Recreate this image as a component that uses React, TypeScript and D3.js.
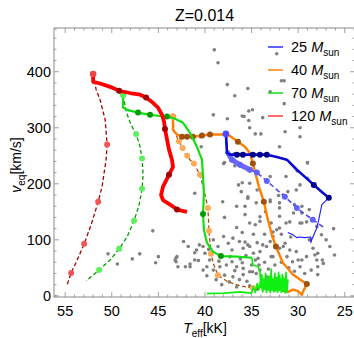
import * as d3 from "d3";

type P = [number, number];

const title = "Z=0.014";
const masses = ["25", "40", "70", "120"];
const legendColors = ["#3a3aff", "#ff8c1a", "#22e022", "#ff4545"];
const xTicks = [55, 50, 45, 40, 35, 30, 25];
const yTicks = [0, 100, 200, 300, 400];

// observed stars (Teff kK, v_eq km/s)
const observed: P[] = [
  [39.0, 439], [38.6, 416], [32.3, 432], [37.6, 377], [35.4, 370], [36.8, 357], [31.8, 384], [31.5, 384],
  [33.0, 364], [31.5, 343], [39.1, 323], [37.6, 316], [36.0, 321], [35.8, 320], [35.3, 330], [34.9, 332],
  [35.3, 313], [33.8, 318], [35.2, 300], [29.8, 300], [34.6, 289], [34.0, 289], [31.4, 293], [29.8, 284],
  [32.0, 266], [29.0, 238], [40.5, 284], [40.4, 266], [37.9, 238], [36.8, 254], [36.5, 238],
  [38.0, 236], [36.8, 232], [29.0, 237], [30.1, 223], [29.0, 210], [31.3, 213], [33.0, 213], [41.1, 183],
  [38.1, 168], [36.4, 198], [36.1, 186], [35.2, 201], [34.4, 189], [35.4, 174], [34.5, 166], [36.6, 160],
  [35.7, 160], [33.0, 168], [32.1, 179], [31.1, 186], [30.2, 189], [32.0, 157], [30.5, 148], [29.6, 160],
  [28.8, 154], [35.2, 130], [34.6, 127], [34.1, 133], [32.9, 130], [32.0, 142], [31.3, 130], [29.6, 130],
  [28.0, 124], [42.3, 97], [43.0, 70], [43.2, 64], [42.1, 52], [41.6, 52], [41.1, 64], [40.9, 82],
  [40.2, 88], [40.0, 76], [39.1, 100], [38.0, 106], [37.5, 94], [37.1, 82], [37.0, 103], [36.3, 97],
  [35.9, 85], [35.4, 91], [34.8, 76], [34.6, 64], [34.3, 67], [33.8, 91], [33.0, 97], [32.7, 106],
  [32.3, 118], [32.9, 70], [32.0, 85], [31.4, 94], [30.9, 82], [30.2, 79], [29.6, 64], [28.8, 100],
  [28.4, 85], [27.9, 76], [28.0, 64], [27.3, 58], [26.6, 88], [27.5, 109], [39.8, 52], [39.1, 46],
  [38.4, 52], [37.7, 55], [37.1, 61], [36.6, 52], [35.9, 49], [35.2, 43], [34.5, 40], [33.9, 29],
  [33.4, 34], [33.0, 23], [32.7, 17], [35.5, 26], [36.3, 29], [37.0, 34], [37.9, 37], [38.8, 29],
  [39.5, 64], [40.2, 46], [45.6, 116], [50.4, 75], [49.4, 57], [47.8, 66], [47.0, 75], [45.3, 59],
  [45.0, 70], [43.1, 68], [43.1, 61], [42.9, 52], [36.0, 202], [35.4, 177], [35.7, 145], [34.1, 141],
  [33.0, 171], [32.0, 166], [31.6, 180], [29.8, 198], [30.4, 163], [29.6, 148], [30.9, 132], [32.0, 121],
  [32.7, 114], [29.8, 130], [29.1, 132], [36.0, 113], [35.7, 96], [35.2, 88], [34.4, 95], [34.1, 79],
  [33.4, 88], [32.7, 70], [31.6, 88], [31.2, 70], [30.6, 61], [30.0, 64], [29.1, 70], [28.2, 73],
  [27.9, 52], [27.4, 64], [26.1, 73], [27.9, 38], [36.0, 59], [35.9, 38], [34.9, 43], [34.1, 46],
  [33.4, 29], [41.8, 88], [41.1, 77], [40.6, 91], [40.7, 63], [41.6, 57],
  [38.5, 62], [37.3, 70], [36.8, 45], [36.2, 66], [35.6, 72], [35.0, 55], [34.2, 55], [33.6, 60],
  [33.2, 48], [32.5, 55], [31.8, 60], [31.0, 50], [30.4, 44], [29.8, 52], [29.3, 40], [28.6, 46],
  [39.8, 36], [38.2, 20], [37.4, 25], [36.6, 16], [35.2, 18], [34.4, 12], [30.8, 105], [31.8, 110],
  [33.6, 110], [34.8, 110], [36.6, 122], [38.6, 88], [39.6, 83], [37.9, 140], [33.5, 150], [27.0, 100],
  [26.2, 120],
];

// 25 Msun
const m25Solid: P[] = [
  [37.75, 289], [37.64, 255], [37.32, 252], [36.57, 252], [35.93, 252], [34.86, 252], [34.11, 252],
  [33.36, 252], [32.29, 248], [31.21, 243], [30.14, 225], [29.18, 211], [28.32, 198], [27.36, 184], [26.71, 175],
];
const m25Tail: P[] = [
  [26.71, 175], [27.46, 163], [27.79, 136], [28.0, 121], [28.21, 113], [28.54, 100], [28.64, 95],
  [28.64, 105], [29.29, 104], [29.82, 105], [30.14, 104], [30.57, 109], [31.11, 113],
];
const m25SolidDots: P[] = [[36.57, 252], [35.93, 252], [34.86, 252], [34.11, 252], [33.36, 252], [28.32, 198], [26.71, 175]];
const m25Band: P[] = [[37.54, 255], [37.11, 243], [36.25, 234], [35.18, 225]];
const m25Dashed: P[] = [
  [37.75, 289], [37.54, 255], [37.11, 243], [36.25, 234], [35.18, 225], [34.43, 220], [33.36, 205],
  [32.39, 191], [31.43, 177], [30.14, 157], [29.29, 146], [28.43, 136], [27.68, 127], [27.04, 120],
];
const m25DashedDots: P[] = [[37.11, 243], [36.25, 234], [35.18, 225], [34.43, 220], [33.36, 205], [31.43, 177], [30.14, 157], [28.43, 136]];

// 40 Msun
const m40Solid: P[] = [
  [43.43, 320], [43.43, 296], [43.0, 288], [42.46, 284], [41.93, 284], [41.29, 284], [40.32, 286],
  [39.46, 288], [38.39, 288], [37.54, 288], [36.46, 275], [35.71, 266], [35.18, 255], [34.86, 236],
  [34.54, 216], [34.21, 195], [33.68, 168], [33.25, 136], [32.82, 109], [32.39, 88], [31.64, 59],
  [30.57, 38], [29.61, 27], [29.07, 21], [29.5, 7], [29.6, 2], [30.04, 9], [30.57, 11], [31.1, 7], [31.54, 11],
];
const m40SolidDots: P[] = [[42.46, 284], [41.93, 284], [41.29, 284], [40.32, 286], [39.46, 288], [36.46, 275], [34.86, 236], [33.68, 168], [32.39, 88], [29.07, 21]];
const m40Dashed: P[] = [
  [43.43, 320], [43.32, 296], [42.89, 279], [42.46, 266], [42.04, 252], [41.61, 243], [41.18, 236],
  [40.54, 216], [40.11, 189], [39.68, 157], [39.57, 116], [39.36, 75], [39.04, 55], [38.61, 37],
  [37.54, 25], [36.25, 18], [34.86, 14], [33.04, 11], [30.89, 7],
];
const m40DashedDots: P[] = [[42.8, 276], [42.4, 264], [41.9, 250], [41.18, 236], [40.54, 216], [39.68, 157], [39.57, 116], [39.36, 75], [38.61, 37], [34.86, 14]];

// 70 Msun
const m70Solid: P[] = [
  [48.79, 359], [48.79, 336], [48.36, 332], [47.18, 327], [45.89, 323], [44.82, 321], [44.07, 320],
  [43.21, 316], [42.36, 309], [41.61, 291], [40.86, 266], [40.32, 243], [40.21, 213], [40.11, 184],
  [40.21, 146], [40.11, 118], [39.79, 95], [39.14, 79], [38.29, 71], [36.57, 70], [34.96, 68],
];
const m70Tail: P[] = [
  [34.96, 68], [34.86, 55], [34.3, 52], [34.1, 43], [34.0, 15], [33.9, 38], [33.8, 8], [33.7, 30],
  [33.6, 12], [33.5, 40], [33.4, 6], [33.3, 28], [33.2, 10], [33.1, 35], [33.0, 6], [32.9, 48],
  [32.8, 10], [32.7, 30], [32.6, 7], [32.5, 40], [32.4, 9], [32.3, 33], [32.2, 6], [32.1, 42],
  [32.0, 10], [31.9, 30], [31.8, 6], [31.7, 38], [31.6, 9], [31.5, 30], [31.4, 5], [31.3, 42],
  [31.2, 8], [31.1, 28], [31.2, 6], [31.3, 35], [31.45, 12], [31.6, 33], [31.8, 8], [32.0, 36],
  [32.2, 14], [32.4, 30], [32.6, 8], [32.8, 26], [33.0, 12], [33.2, 34], [33.4, 9], [33.6, 25],
  [33.8, 7], [34.0, 30], [34.2, 11], [34.4, 22], [34.6, 6], [34.8, 16], [35.0, 5], [36.25, 7],
  [37.9, 5], [39.8, 4],
];
const m70SolidDots: P[] = [[47.18, 327], [45.89, 323], [44.07, 320], [40.21, 146], [38.29, 71]];
const m70Dashed: P[] = [
  [48.79, 359], [48.46, 329], [47.93, 305], [47.39, 289], [46.96, 266], [46.75, 245], [46.64, 216],
  [46.75, 191], [47.07, 162], [47.61, 134], [48.36, 105], [49.21, 84], [50.18, 64], [51.36, 46], [52.75, 27],
];
const m70DashedDots: P[] = [[47.39, 289], [46.75, 245], [46.75, 191], [47.61, 134], [49.21, 84], [51.36, 46]];

// 120 Msun
const m120Solid: P[] = [
  [52.0, 396], [52.0, 382], [51.25, 379], [50.18, 373], [49.21, 366], [48.04, 362], [46.96, 359],
  [46.32, 354], [45.68, 346], [45.04, 336], [44.61, 323], [44.39, 311], [44.29, 298], [44.07, 279],
  [43.86, 261], [43.54, 243], [43.43, 230], [43.86, 216], [44.5, 195], [44.71, 180], [44.5, 171],
  [43.75, 163], [43.0, 154], [41.93, 150],
];
const m120SolidDots: P[] = [[49.21, 366], [46.32, 354], [44.29, 298], [43.86, 216], [43.0, 154]];
const m120Dashed: P[] = [
  [52.0, 396], [51.68, 368], [51.25, 350], [50.71, 314], [50.5, 270], [50.61, 243], [51.04, 195],
  [51.46, 168], [52.21, 127], [52.96, 93], [53.71, 64], [54.36, 41], [54.79, 20],
];
const m120DashedDots: P[] = [[50.5, 270], [51.46, 168], [52.96, 93], [54.36, 41]];

const W = 354;
const H = 338;
const left = 54;
const right = 355;
const top = 28;
const bottom = 297;
const font = "'Liberation Sans', Arial, sans-serif";

export default function App() {
  const x = d3.scaleLinear().domain([56.2, 23.9]).range([left, right]);
  const y = d3.scaleLinear().domain([-2, 478]).range([bottom, top]);
  const line = d3.line<P>().x((d) => x(d[0])).y((d) => y(d[1]));

  const dots = (pts: P[], fill: string, r = 3) =>
    pts.map((d, i) => <circle key={i} cx={x(d[0])} cy={y(d[1])} r={r} fill={fill} />);

  const xMinor = d3.range(24, 57, 1);
  const yMinor = d3.range(0, 480, 20);
  const frame = "#8a8a8a";

  return (
    <svg width={W} height={H} style={{ position: "absolute", left: 0, top: 0, fontFamily: font }}>
      <rect width={W} height={H} fill="#fff" />
      <defs>
        <clipPath id="plot">
          <rect x={left} y={top} width={right - left} height={bottom - top} />
        </clipPath>
      </defs>

      <text x={(left + right) / 2} y={21} textAnchor="middle" fontSize={16}>{title}</text>

      {/* frame */}
      <rect x={left} y={top} width={right - left} height={bottom - top} fill="none" stroke={frame} strokeWidth={1} />
      {xMinor.map((t) => {
        const len = t % 5 === 0 ? 5 : 2.5;
        return (
          <g key={t} stroke={frame} strokeWidth={0.8}>
            <line x1={x(t)} x2={x(t)} y1={bottom} y2={bottom - len} />
            <line x1={x(t)} x2={x(t)} y1={top} y2={top + len} />
          </g>
        );
      })}
      {yMinor.map((v) => {
        const len = v % 100 === 0 ? 5 : 2.5;
        return (
          <g key={v} stroke={frame} strokeWidth={0.8}>
            <line x1={left} x2={left + len} y1={y(v)} y2={y(v)} />
            <line x1={right} x2={right - len} y1={y(v)} y2={y(v)} />
          </g>
        );
      })}
      {xTicks.map((t) => (
        <text key={t} x={x(t)} y={316} textAnchor="middle" fontSize={14.5}>{t}</text>
      ))}
      {yTicks.map((v) => (
        <text key={v} x={51} y={y(v) + 5} textAnchor="end" fontSize={14.5}>{v}</text>
      ))}

      {/* axis labels */}
      <text x={205} y={333} textAnchor="middle" fontSize={14}>
        <tspan fontStyle="italic">T</tspan>
        <tspan fontSize={10} dy={4}>eff</tspan>
        <tspan dy={-4}>[kK]</tspan>
      </text>
      <text transform={`translate(21,165) rotate(-90)`} textAnchor="middle" fontSize={14}>
        <tspan fontStyle="italic">v</tspan>
        <tspan fontSize={10} dy={4}>eq</tspan>
        <tspan dy={-4}>[km/s]</tspan>
      </text>

      <g clipPath="url(#plot)">
        {observed.map((d, i) => (
          <circle key={i} cx={x(d[0])} cy={y(d[1])} r={1.8} fill="#808080" />
        ))}

        {/* 40 */}
        <path d={line(m40Dashed) ?? ""} fill="none" stroke="#a5520c" strokeWidth={1.3} strokeDasharray="4,2.5" />
        {dots(m40DashedDots, "#ffaa5a")}
        <path d={line(m40Solid) ?? ""} fill="none" stroke="#ff8000" strokeWidth={2.4} strokeLinejoin="round" />
        {dots(m40SolidDots, "#a0520c")}
        <circle cx={x(43.43)} cy={y(320)} r={3.3} fill="#ffa64d" />

        {/* 70 */}
        <path d={line(m70Dashed) ?? ""} fill="none" stroke="#00a000" strokeWidth={1.3} strokeDasharray="4,2.5" />
        {dots(m70DashedDots, "#5cf05c")}
        <path d={line(m70Tail) ?? ""} fill="none" stroke="#10f010" strokeWidth={1.7} strokeLinejoin="round" />
        <path d={line(m70Solid) ?? ""} fill="none" stroke="#10e010" strokeWidth={2.2} strokeLinejoin="round" />
        {dots(m70SolidDots, "#009a00")}
        <circle cx={x(48.79)} cy={y(359)} r={3.3} fill="#55ee55" />

        {/* 25 */}
        <path d={line(m25Dashed) ?? ""} fill="none" stroke="#4848f0" strokeWidth={1.6} strokeDasharray="5,3" />
        <path d={line(m25Band) ?? ""} fill="none" stroke="#6a6af8" strokeWidth={5} strokeLinecap="round" />
        {dots(m25DashedDots, "#6262ff")}
        <path d={line(m25Tail) ?? ""} fill="none" stroke="#1a1aff" strokeWidth={1.1} strokeLinejoin="round" />
        <path d={line(m25Solid) ?? ""} fill="none" stroke="#0808d8" strokeWidth={2.6} strokeLinejoin="round" />
        {dots(m25SolidDots, "#00008c")}
        <circle cx={x(37.75)} cy={y(289)} r={3.3} fill="#4d4dff" />

        {/* 120 */}
        <path d={line(m120Dashed) ?? ""} fill="none" stroke="#a80000" strokeWidth={1.3} strokeDasharray="4,2.5" />
        {dots(m120DashedDots, "#f25555")}
        <path d={line(m120Solid) ?? ""} fill="none" stroke="#ff0000" strokeWidth={3.8} strokeLinejoin="round" />
        {dots(m120SolidDots, "#a00000")}
        <circle cx={x(52.0)} cy={y(396)} r={3.3} fill="#ee4444" />
      </g>

      {/* legend */}
      {masses.map((m, i) => {
        const cy = 47 + i * 23;
        return (
          <g key={m}>
            <line x1={268} x2={283} y1={cy} y2={cy} stroke={legendColors[i]} strokeWidth={1.6} />
            <text x={291} y={cy + 5} fontSize={14.5}>
              {m + " "}
              <tspan fontStyle="italic">M</tspan>
              <tspan fontSize={10} dy={4}>sun</tspan>
            </text>
          </g>
        );
      })}
    </svg>
  );
}
